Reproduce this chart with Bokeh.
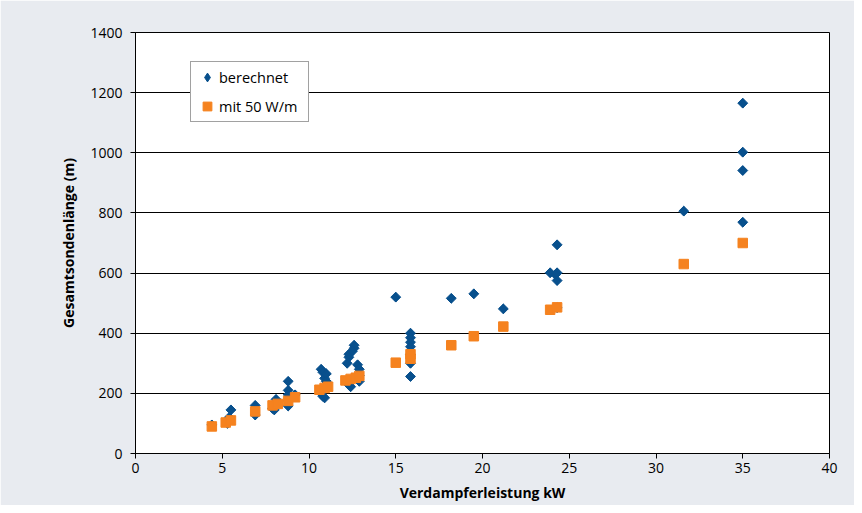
import numpy as np
from bokeh.plotting import figure
from bokeh.models import ColumnDataSource, Range1d, FixedTicker, Legend, LegendItem
from bokeh.embed import file_html
from bokeh.resources import INLINE

# berechnet (calculated)
ber_x = [4.4, 5.3, 5.4, 5.5, 6.9, 6.9, 7.9, 8.0, 8.1, 8.1,
         8.8, 8.8, 8.8, 8.8, 8.8, 9.2,
         10.7, 10.8, 10.9, 10.7, 10.8, 10.9, 11.0, 11.0,
         12.2, 12.3, 12.3, 12.3, 12.4, 12.6, 12.6, 12.5,
         12.8, 12.9, 12.9, 12.9,
         15.0, 15.85, 15.85, 15.85, 15.85, 15.85, 15.85, 15.85,
         18.2, 19.5, 21.2, 23.9, 24.3, 24.3, 24.2, 24.3, 24.3,
         31.6, 35.0, 35.0, 35.0, 35.0]
ber_y = [95, 100, 120, 145, 160, 128, 150, 145, 165, 180,
         240, 210, 195, 175, 158, 195,
         280, 270, 250, 200, 190, 185, 265, 240,
         300, 320, 330, 228, 222, 350, 360, 340,
         295, 280, 260, 240,
         520, 400, 385, 370, 355, 330, 300, 256,
         516, 531, 481, 601, 694, 601, 595, 575, 485,
         806, 1165, 1002, 941, 769]

# mit 50 W/m
w50_x = [4.4, 5.2, 5.5, 6.9, 7.9, 8.2, 8.8, 9.2,
         10.6, 10.9, 11.1, 12.1, 12.4, 12.7, 12.9,
         15.0, 15.85, 15.85, 18.2, 19.5, 21.2, 23.9, 24.3, 31.6, 35.0]
w50_y = [90, 103, 110, 140, 160, 165, 175, 187,
         212, 218, 222, 243, 248, 252, 258,
         302, 315, 330, 360, 390, 422, 478, 486, 630, 700]

x_ticks = [0, 5, 10, 15, 20, 25, 30, 35, 40]
y_ticks = [0, 200, 400, 600, 800, 1000, 1200, 1400]

BLUE = "#08508d"
ORANGE = "#f5821f"
FONT = "Open Sans"

p = figure(width=854, height=505, output_backend="svg", toolbar_location=None,
           x_range=Range1d(0, 40), y_range=Range1d(0, 1400),
           min_border_left=135, min_border_right=25, min_border_top=32, min_border_bottom=52)
p.border_fill_color = "#e8ebf0"
p.background_fill_color = "white"
p.outline_line_color = "black"
p.outline_line_width = 1

p.xgrid.grid_line_color = None
p.ygrid.grid_line_color = "black"
p.ygrid.grid_line_width = 1
p.ygrid.ticker = FixedTicker(ticks=y_ticks)

p.xaxis.ticker = FixedTicker(ticks=x_ticks)
p.yaxis.ticker = FixedTicker(ticks=y_ticks)
for ax in (p.xaxis[0], p.yaxis[0]):
    ax.axis_line_color = "black"
    ax.major_tick_line_color = "black"
    ax.major_tick_out = 5
    ax.major_tick_in = 0
    ax.minor_tick_line_color = None
    ax.major_label_text_font = FONT
    ax.major_label_text_font_size = "14px"
    ax.major_label_text_color = "black"
    ax.axis_label_text_font = FONT
    ax.axis_label_text_font_size = "14px"
    ax.axis_label_text_font_style = "bold"
    ax.axis_label_text_color = "black"

p.xaxis.axis_label = "Verdampferleistung kW"
p.yaxis.axis_label = "Gesamtsondenlänge (m)"
p.xaxis.major_label_standoff = 4
p.yaxis.major_label_standoff = 8
p.xaxis.axis_label_standoff = 7
p.yaxis.axis_label_standoff = 9

src_b = ColumnDataSource(dict(x=ber_x, y=ber_y))
src_o = ColumnDataSource(dict(x=w50_x, y=w50_y))

# diamond-shaped copy of the calculated values (hidden below the rotated squares,
# used for the legend symbol because legends do not rotate markers)
r_leg = p.scatter("x", "y", source=src_b, marker="diamond", size=9,
                  fill_color=BLUE, line_color=BLUE)
r_b = p.scatter("x", "y", source=src_b, marker="square", angle=np.pi / 4, size=7,
                fill_color=BLUE, line_color=BLUE)
r_o = p.scatter("x", "y", source=src_o, marker="square", size=9.5,
                fill_color=ORANGE, line_color=ORANGE)

legend = Legend(items=[LegendItem(label="berechnet", renderers=[r_leg]),
                       LegendItem(label="mit 50 W/m", renderers=[r_o])],
                location=(55, 331))
legend.border_line_color = "#444444"
legend.border_line_width = 1
legend.background_fill_color = "white"
legend.background_fill_alpha = 1
legend.label_text_font = FONT
legend.label_text_font_size = "14.5px"
legend.label_text_color = "black"
legend.padding = 4
legend.margin = 0
legend.glyph_width = 24
legend.glyph_height = 22
legend.label_height = 22
legend.label_width = 85
legend.label_standoff = 0
legend.spacing = 7
p.add_layout(legend, "center")

open("out.html", "w").write(file_html(p, INLINE))
